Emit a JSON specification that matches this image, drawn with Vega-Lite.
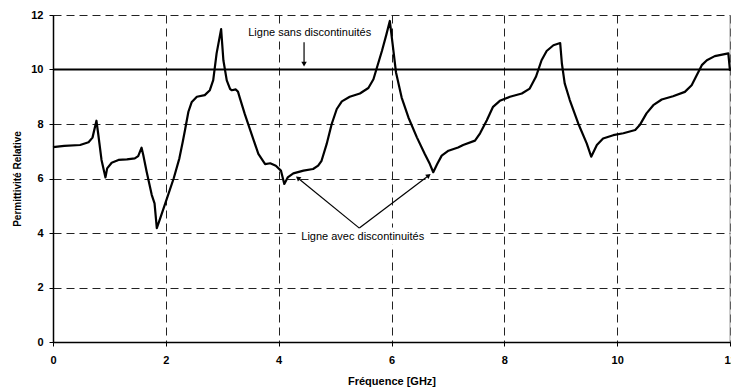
{
  "$schema": "https://vega.github.io/schema/vega-lite/v6.json",
  "width": 677,
  "height": 327,
  "autosize": {"type": "none"},
  "padding": {"left": 53, "top": 15, "right": 1, "bottom": 48},
  "background": "white",
  "config": {
    "view": {"stroke": null},
    "font": "Liberation Sans",
    "axis": {
      "domainColor": "#000",
      "domainWidth": 1.5,
      "tickColor": "#000",
      "tickSize": 4,
      "tickWidth": 1,
      "gridColor": "#222",
      "gridDash": [8, 5],
      "gridWidth": 1,
      "gridOpacity": 1,
      "labelFont": "Liberation Sans",
      "labelFontWeight": "bold",
      "labelFontSize": 11,
      "labelColor": "#000",
      "titleFont": "Liberation Sans",
      "titleFontWeight": "bold",
      "titleColor": "#000"
    }
  },
  "datasets": {
    "curve": [
      {"f": 0.00, "eps": 7.15}, {"f": 0.20, "eps": 7.20}, {"f": 0.48, "eps": 7.23}, {"f": 0.63, "eps": 7.33},
      {"f": 0.70, "eps": 7.50}, {"f": 0.77, "eps": 8.12}, {"f": 0.80, "eps": 7.66}, {"f": 0.86, "eps": 6.68},
      {"f": 0.93, "eps": 6.04}, {"f": 0.96, "eps": 6.37}, {"f": 1.04, "eps": 6.58}, {"f": 1.16, "eps": 6.68},
      {"f": 1.31, "eps": 6.70}, {"f": 1.45, "eps": 6.74}, {"f": 1.51, "eps": 6.82}, {"f": 1.57, "eps": 7.13},
      {"f": 1.60, "eps": 6.86}, {"f": 1.66, "eps": 6.25}, {"f": 1.75, "eps": 5.40}, {"f": 1.80, "eps": 5.09},
      {"f": 1.84, "eps": 4.18}, {"f": 1.90, "eps": 4.54}, {"f": 2.02, "eps": 5.27}, {"f": 2.14, "eps": 6.01},
      {"f": 2.24, "eps": 6.74}, {"f": 2.30, "eps": 7.35}, {"f": 2.34, "eps": 7.78}, {"f": 2.40, "eps": 8.45},
      {"f": 2.46, "eps": 8.81}, {"f": 2.55, "eps": 9.00}, {"f": 2.69, "eps": 9.06}, {"f": 2.78, "eps": 9.24},
      {"f": 2.84, "eps": 9.61}, {"f": 2.90, "eps": 10.59}, {"f": 2.98, "eps": 11.48}, {"f": 3.02, "eps": 10.34},
      {"f": 3.08, "eps": 9.60}, {"f": 3.14, "eps": 9.28}, {"f": 3.17, "eps": 9.24}, {"f": 3.24, "eps": 9.27},
      {"f": 3.28, "eps": 9.18}, {"f": 3.31, "eps": 8.97}, {"f": 3.40, "eps": 8.36}, {"f": 3.52, "eps": 7.63},
      {"f": 3.64, "eps": 6.90}, {"f": 3.76, "eps": 6.53}, {"f": 3.85, "eps": 6.56}, {"f": 3.95, "eps": 6.47},
      {"f": 4.04, "eps": 6.29}, {"f": 4.10, "eps": 5.80}, {"f": 4.16, "eps": 6.04}, {"f": 4.26, "eps": 6.19},
      {"f": 4.44, "eps": 6.29}, {"f": 4.61, "eps": 6.35}, {"f": 4.70, "eps": 6.47}, {"f": 4.76, "eps": 6.65},
      {"f": 4.85, "eps": 7.26}, {"f": 4.94, "eps": 8.00}, {"f": 5.03, "eps": 8.55}, {"f": 5.12, "eps": 8.83},
      {"f": 5.26, "eps": 9.00}, {"f": 5.44, "eps": 9.12}, {"f": 5.59, "eps": 9.32}, {"f": 5.68, "eps": 9.64},
      {"f": 5.75, "eps": 10.13}, {"f": 5.83, "eps": 10.68}, {"f": 5.91, "eps": 11.29}, {"f": 5.97, "eps": 11.78},
      {"f": 6.02, "eps": 10.93}, {"f": 6.08, "eps": 9.89}, {"f": 6.18, "eps": 8.97}, {"f": 6.30, "eps": 8.24},
      {"f": 6.45, "eps": 7.51}, {"f": 6.59, "eps": 6.90}, {"f": 6.68, "eps": 6.53}, {"f": 6.74, "eps": 6.23},
      {"f": 6.81, "eps": 6.53}, {"f": 6.89, "eps": 6.84}, {"f": 7.01, "eps": 7.02}, {"f": 7.18, "eps": 7.14},
      {"f": 7.27, "eps": 7.23}, {"f": 7.48, "eps": 7.39}, {"f": 7.57, "eps": 7.66}, {"f": 7.69, "eps": 8.14},
      {"f": 7.80, "eps": 8.63}, {"f": 7.92, "eps": 8.85}, {"f": 8.10, "eps": 9.00}, {"f": 8.31, "eps": 9.12},
      {"f": 8.45, "eps": 9.30}, {"f": 8.56, "eps": 9.73}, {"f": 8.66, "eps": 10.34}, {"f": 8.75, "eps": 10.68},
      {"f": 8.87, "eps": 10.89}, {"f": 8.99, "eps": 10.97}, {"f": 9.02, "eps": 10.22}, {"f": 9.07, "eps": 9.49},
      {"f": 9.16, "eps": 8.88}, {"f": 9.31, "eps": 8.02}, {"f": 9.46, "eps": 7.29}, {"f": 9.54, "eps": 6.80},
      {"f": 9.64, "eps": 7.23}, {"f": 9.75, "eps": 7.47}, {"f": 9.93, "eps": 7.59}, {"f": 10.11, "eps": 7.66},
      {"f": 10.32, "eps": 7.78}, {"f": 10.40, "eps": 7.96}, {"f": 10.52, "eps": 8.39}, {"f": 10.64, "eps": 8.69},
      {"f": 10.79, "eps": 8.90}, {"f": 10.99, "eps": 9.02}, {"f": 11.20, "eps": 9.18}, {"f": 11.32, "eps": 9.42},
      {"f": 11.41, "eps": 9.79}, {"f": 11.50, "eps": 10.16}, {"f": 11.59, "eps": 10.34}, {"f": 11.73, "eps": 10.49},
      {"f": 11.97, "eps": 10.59}, {"f": 12.00, "eps": 9.95}
    ],
    "ref": [{"f": 0, "eps": 10}, {"f": 12, "eps": 10}],
    "labels": [
      {"f": 4.55, "eps": 11.33, "text": "Ligne sans discontinuités"},
      {"f": 5.49, "eps": 3.85, "text": "Ligne avec discontinuités"}
    ],
    "arrows": [
      {"f": 4.45, "eps": 11.0, "f2": 4.45, "eps2": 10.23},
      {"f": 5.43, "eps": 4.18, "f2": 4.34, "eps2": 6.02},
      {"f": 5.43, "eps": 4.18, "f2": 6.66, "eps2": 6.11}
    ],
    "headDown": [{"f": 4.45, "eps": 10.2}],
    "headLeft": [{"f": 4.34, "eps": 6.02}],
    "headRight": [{"f": 6.66, "eps": 6.11}],
    "border": [{"f": 12}]
  },
  "layer": [
    {
      "data": {"name": "ref"},
      "mark": {"type": "line", "color": "#000", "strokeWidth": 2},
      "encoding": {
        "x": {
          "field": "f", "type": "quantitative",
          "scale": {"domain": [0, 12], "nice": false},
          "axis": {
            "values": [0, 2, 4, 6, 8, 10, 12],
            "format": "d",
            "title": "Fréquence [GHz]",
            "titleFontSize": 11,
            "labelPadding": 8,
            "titlePadding": 10,
            "labelFlush": false,
            "labelOverlap": false
          }
        },
        "y": {
          "field": "eps", "type": "quantitative",
          "scale": {"domain": [0, 12], "nice": false},
          "axis": {
            "values": [0, 2, 4, 6, 8, 10, 12],
            "format": "d",
            "title": "Permittivité Relative",
            "titleFontSize": 10,
            "labelPadding": 6,
            "titlePadding": 8
          }
        }
      }
    },
    {
      "data": {"name": "border"},
      "mark": {"type": "rule", "color": "#999", "strokeWidth": 1},
      "encoding": {"x": {"field": "f", "type": "quantitative"}}
    },
    {
      "data": {"name": "labels"},
      "mark": {"type": "text", "font": "Liberation Sans", "fontSize": 11, "color": "#fff", "stroke": "#fff", "strokeWidth": 9, "strokeJoin": "round", "align": "center", "baseline": "middle"},
      "encoding": {
        "x": {"field": "f", "type": "quantitative"},
        "y": {"field": "eps", "type": "quantitative"},
        "text": {"field": "text"}
      }
    },
    {
      "data": {"name": "curve"},
      "mark": {"type": "line", "color": "#000", "strokeWidth": 2.2, "strokeJoin": "round"},
      "encoding": {
        "x": {"field": "f", "type": "quantitative"},
        "y": {"field": "eps", "type": "quantitative"}
      }
    },
    {
      "data": {"name": "arrows"},
      "mark": {"type": "rule", "color": "#000", "strokeWidth": 1.2},
      "encoding": {
        "x": {"field": "f", "type": "quantitative"},
        "y": {"field": "eps", "type": "quantitative"},
        "x2": {"field": "f2"},
        "y2": {"field": "eps2"}
      }
    },
    {
      "data": {"name": "headDown"},
      "mark": {"type": "point", "shape": "triangle-down", "filled": true, "color": "#000", "size": 30, "opacity": 1},
      "encoding": {
        "x": {"field": "f", "type": "quantitative"},
        "y": {"field": "eps", "type": "quantitative"}
      }
    },
    {
      "data": {"name": "headLeft"},
      "mark": {"type": "point", "shape": "triangle-up", "angle": 309, "filled": true, "color": "#000", "size": 30, "opacity": 1},
      "encoding": {
        "x": {"field": "f", "type": "quantitative"},
        "y": {"field": "eps", "type": "quantitative"}
      }
    },
    {
      "data": {"name": "headRight"},
      "mark": {"type": "point", "shape": "triangle-up", "angle": 53, "filled": true, "color": "#000", "size": 30, "opacity": 1},
      "encoding": {
        "x": {"field": "f", "type": "quantitative"},
        "y": {"field": "eps", "type": "quantitative"}
      }
    },
    {
      "data": {"name": "labels"},
      "mark": {"type": "text", "font": "Liberation Sans", "fontSize": 11, "color": "#000", "align": "center", "baseline": "middle"},
      "encoding": {
        "x": {"field": "f", "type": "quantitative"},
        "y": {"field": "eps", "type": "quantitative"},
        "text": {"field": "text"}
      }
    }
  ]
}
